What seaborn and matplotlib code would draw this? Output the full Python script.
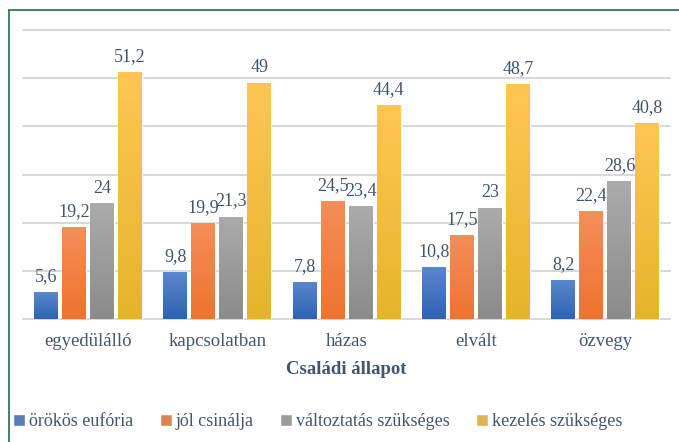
import numpy as np
import pandas as pd
import matplotlib.pyplot as plt
import seaborn as sns
from matplotlib.colors import LinearSegmentedColormap
from matplotlib.lines import Line2D

allapot = ['egyedülálló', 'kapcsolatban', 'házas', 'elvált', 'özvegy']
csoportok = ['örökös eufória', 'jól csinálja', 'változtatás szükséges', 'kezelés szükséges']
euforia = [5.6, 9.8, 7.8, 10.8, 8.2]
jol_csinalja = [19.2, 19.9, 24.5, 17.5, 22.4]
valtoztatas = [24, 21.3, 23.4, 23, 28.6]
kezeles = [51.2, 49, 44.4, 48.7, 40.8]

szinek = ['#4a78c6', '#f07f3e', '#9c9c9c', '#f7be3a']
szinek_fent = ['#5b87cd', '#f58e59', '#ababab', '#ffc654']
szinek_lent = ['#2e63b2', '#ee732f', '#8b8b8b', '#e6b42b']
szoveg = '#44546a'

sorok = []
for nev, ertekek in zip(csoportok, [euforia, jol_csinalja, valtoztatas, kezeles]):
    for a, v in zip(allapot, ertekek):
        sorok.append({'allapot': a, 'csoport': nev, 'ertek': v})
df = pd.DataFrame(sorok)

sns.set_theme(style='white')
plt.rcParams['font.family'] = ['Liberation Serif', 'DejaVu Serif']

fig = plt.figure(figsize=(6.79, 4.42), dpi=100)
ax = fig.add_axes([0.034, 0.278, 0.953, 0.654])

sns.barplot(data=df, x='allapot', y='ertek', hue='csoport', hue_order=csoportok,
            order=allapot, palette=szinek, width=0.865, gap=0.143,
            errorbar=None, ax=ax)

# szinatmenet az oszlopokon
for i, cont in enumerate(ax.containers):
    cmap = LinearSegmentedColormap.from_list('g%d' % i, [szinek_lent[i], szinek_fent[i]])
    for bar in cont:
        x0, y0 = bar.get_x(), bar.get_y()
        w, h = bar.get_width(), bar.get_height()
        im = ax.imshow(np.linspace(0, 1, 100).reshape(-1, 1), cmap=cmap, origin='lower',
                       extent=[x0, x0 + w, y0, y0 + h], aspect='auto',
                       zorder=bar.get_zorder() + 0.1)
        im.set_clip_path(bar)

for cont, ertekek in zip(ax.containers, [euforia, jol_csinalja, valtoztatas, kezeles]):
    ax.bar_label(cont, labels=[f'{v:g}'.replace('.', ',') for v in ertekek],
                 padding=5, fontsize=13, color=szoveg, zorder=5)

ax.set_xlim(-0.5, 4.5)
ax.set_ylim(0, 60)
ax.set_yticks(range(0, 61, 10))
ax.set_yticklabels([])
ax.tick_params(axis='y', length=0)
ax.yaxis.grid(True, color='#d9d9d9', lw=1.5)
for line in ax.get_ygridlines():
    line.set_clip_on(False)
ax.set_axisbelow(True)
for s in ax.spines.values():
    s.set_visible(False)
ax.tick_params(axis='x', length=0, pad=10, labelsize=13.5, labelcolor=szoveg)
ax.set_xlabel('Családi állapot', fontsize=13.5, fontweight='bold', color=szoveg, labelpad=8)
ax.set_ylabel('')

handles, labels = ax.get_legend_handles_labels()
ax.get_legend().remove()
fig.legend(handles, labels, loc='center', bbox_to_anchor=(0.468, 0.046), ncol=4,
           frameon=False, fontsize=13, labelcolor=szoveg, handlelength=0.65,
           handleheight=0.65, handletextpad=0.2, columnspacing=1.5)

# keret
fig.add_artist(Line2D([9 / 679, 1], [1 - 10 / 442] * 2, color='#2f7a50', lw=1.3))
fig.add_artist(Line2D([9 / 679] * 2, [0, 1 - 10 / 442], color='#2f7a50', lw=1.3))

plt.savefig('out.png', dpi=100)
